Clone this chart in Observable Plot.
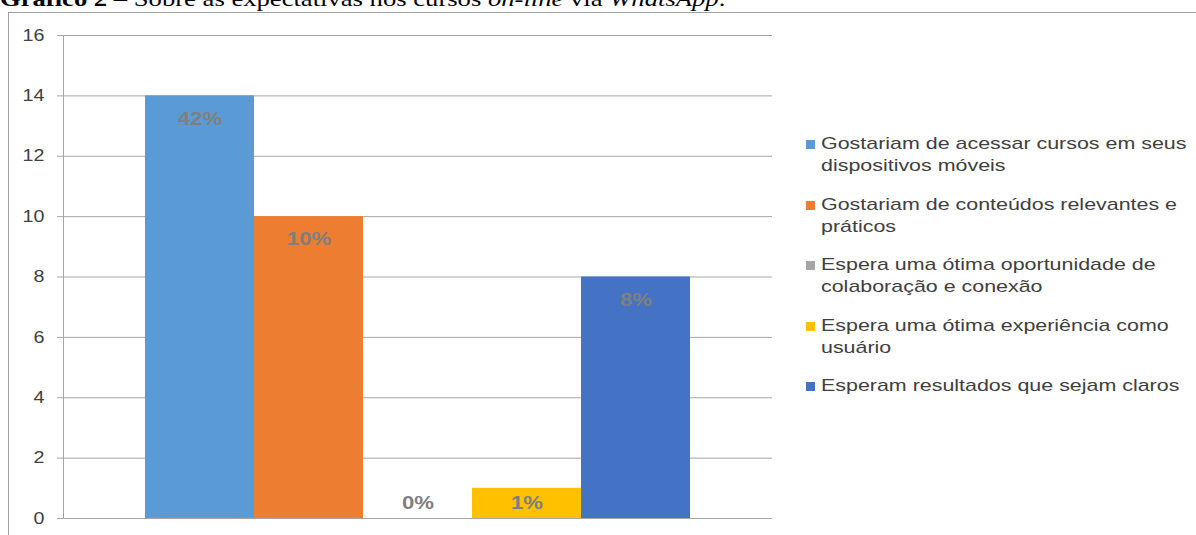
<!DOCTYPE html>
<html>
<head>
<meta charset="utf-8">
<script src="https://cdn.jsdelivr.net/npm/d3@7"></script>
<script src="https://cdn.jsdelivr.net/npm/@observablehq/plot@0.6"></script>
<style>
  html, body { margin: 0; padding: 0; background: #fff; }
  #wrap { position: relative; width: 1196px; height: 535px; overflow: hidden; background: #fff; }
  #title { position: absolute; left: 0; top: -12px; font-family: "Liberation Serif", "Times New Roman", serif; font-size: 22px; line-height: 22px; color: #000; white-space: nowrap; transform: scaleX(1.21); transform-origin: left center; }
  #border { position: absolute; left: 8px; top: 12px; width: 1250px; height: 600px; border: 1px solid #a0a0a0; box-sizing: border-box; }
  #chart { position: absolute; left: 0; top: 0; }
  #legend { position: absolute; left: 806px; top: 0; font-family: "Liberation Sans", Arial, sans-serif; font-size: 17px; line-height: 21.5px; color: #404040; }
  .item { position: absolute; left: 0; white-space: nowrap; }
  .sw { position: absolute; left: 0; top: 7px; width: 9px; height: 9px; }
  .txt { position: absolute; left: 15px; top: 0; transform: scaleX(1.26); transform-origin: left top; }
</style>
</head>
<body>
<div id="wrap">
  <div id="border"></div>
  <div id="title"><b>Gráfico 2</b> – Sobre as expectativas nos cursos <i>on-line</i> via <i>WhatsApp</i>.</div>
  <div id="chart"></div>
  <div id="legend"></div>
</div>
<script>
const series = [
  "Gostariam de acessar cursos em seus dispositivos móveis",
  "Gostariam de conteúdos relevantes e práticos",
  "Espera uma ótima oportunidade de colaboração e conexão",
  "Espera uma ótima experiência como usuário",
  "Esperam resultados que sejam claros"
];
const legendLines = [
  ["Gostariam de acessar cursos em seus", "dispositivos móveis"],
  ["Gostariam de conteúdos relevantes e", "práticos"],
  ["Espera uma ótima oportunidade de", "colaboração e conexão"],
  ["Espera uma ótima experiência como", "usuário"],
  ["Esperam resultados que sejam claros"]
];
const values = [14, 10, 0, 1, 8];
const labels = ["42%", "10%", "0%", "1%", "8%"];
const colors = ["#5B9BD5", "#ED7D31", "#A5A5A5", "#FFC000", "#4472C4"];
const yTicks = [0, 2, 4, 6, 8, 10, 12, 14, 16];

const data = series.map((s, i) => ({name: s, value: values[i], label: labels[i]}));

const chart = Plot.plot({
  width: 1196,
  height: 535,
  marginLeft: 63,
  marginRight: 424,
  marginTop: 35,
  marginBottom: 17,
  style: {background: "transparent", fontFamily: "'Liberation Sans', Arial, sans-serif"},
  x: {type: "band", domain: series, paddingInner: 0, paddingOuter: 0.75, axis: null},
  y: {domain: [0, 16], ticks: yTicks, axis: null, label: null},
  color: {domain: series, range: colors},
  marks: [
    Plot.gridY(yTicks, {stroke: "#a6a6a6", strokeOpacity: 1, strokeWidth: 1}),
    Plot.axisY(yTicks, {tickSize: 6, tickPadding: 13, stroke: "#a6a6a6", strokeOpacity: 1, fill: "#404040", fontSize: 16, tickFormat: d => String(d), label: null}),
    Plot.frame({anchor: "left", stroke: "#a6a6a6"}),
    Plot.barY(data, {x: "name", y: "value", fill: "name", inset: 0}),
    Plot.text(data.filter(d => d.value >= 2), {x: "name", y: "value", text: "label", dy: 23, fill: "#7f7f7f", fontWeight: "bold", fontSize: 18}),
    Plot.text(data.filter(d => d.value < 2), {x: "name", y: 0, text: "label", dy: -15, fill: "#7f7f7f", fontWeight: "bold", fontSize: 18})
  ]
});
document.getElementById("chart").appendChild(chart);

// widen the glyphs horizontally (the reference is horizontally stretched)
chart.querySelectorAll("text").forEach(t => {
  const xa = t.getAttribute("x");
  const x = xa && !/em/.test(xa) ? parseFloat(xa) : 0;
  if (xa && !/em/.test(xa)) t.setAttribute("x", 0);
  const tr = t.getAttribute("transform") || "";
  t.setAttribute("transform", `${tr} translate(${x},0) scale(1.23,1)`);
});

const legend = document.getElementById("legend");
const legendTops = [133, 194, 254, 315, 375];
legendLines.forEach((lines, i) => {
  const item = document.createElement("div");
  item.className = "item";
  item.style.top = legendTops[i] + "px";
  const sw = document.createElement("div");
  sw.className = "sw";
  sw.style.background = colors[i];
  const txt = document.createElement("div");
  txt.className = "txt";
  txt.innerHTML = lines.join("<br>");
  item.appendChild(sw);
  item.appendChild(txt);
  legend.appendChild(item);
});
</script>
</body>
</html>
